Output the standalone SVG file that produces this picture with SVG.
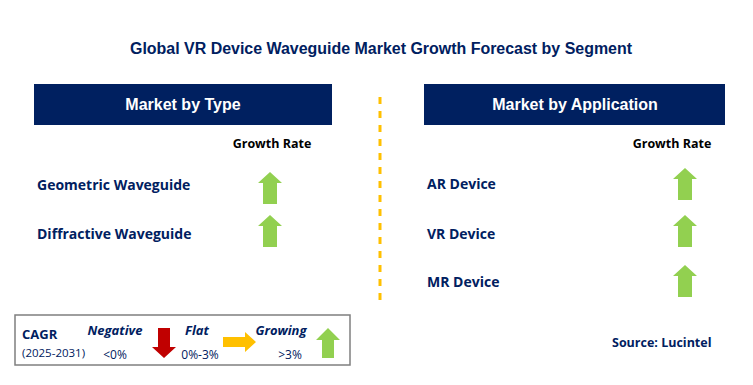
<svg xmlns="http://www.w3.org/2000/svg" width="753" height="385" viewBox="0 0 753 385">
<defs>
<style>
.t{font-family:"Liberation Sans",Arial,sans-serif;font-weight:bold;fill:#002060}
.h{font-family:"Liberation Sans",Arial,sans-serif;font-weight:bold;fill:#fff;font-size:16px}
.c{font-family:"Open Sans","Liberation Sans",sans-serif;fill:#002060}
.k{fill:#000}
.g{fill:#92D050}
.hb{fill:#002060}
</style>
<path id="up" d="M0,0 L12,11 L7,11 L7,32 L-7,32 L-7,11 L-12,11 Z"/>
</defs>
<rect width="753" height="385" fill="#fff"/>
<text id="title" class="t" x="130" y="54" font-size="16" textLength="502" lengthAdjust="spacingAndGlyphs">Global VR Device Waveguide Market Growth Forecast by Segment</text>
<g id="type-header"><rect class="hb" x="34" y="84" width="298" height="41"/><text class="h" x="183" y="110" text-anchor="middle">Market by Type</text></g>
<g id="app-header"><rect class="hb" x="424" y="84" width="301" height="41"/><text class="h" x="575" y="110" text-anchor="middle">Market by Application</text></g>
<g id="connectors"><line x1="380" y1="97" x2="380" y2="302" stroke="#FFC000" stroke-width="3" stroke-dasharray="7,7"/></g>
<g id="gr-left"><text class="c k" x="272" y="148" font-size="12.5" font-weight="bold" text-anchor="middle">Growth Rate</text></g>
<g id="gr-right"><text class="c k" x="672" y="148" font-size="12.5" font-weight="bold" text-anchor="middle">Growth Rate</text></g>
<g id="geometric"><text class="c" x="37" y="190" font-size="14" font-weight="bold">Geometric Waveguide</text><use href="#up" class="g" x="270" y="172"/></g>
<g id="diffractive"><text class="c" x="37" y="239" font-size="14" font-weight="bold">Diffractive Waveguide</text><use href="#up" class="g" x="270" y="215"/></g>
<g id="ar"><text class="c" x="427" y="189" font-size="14" font-weight="bold">AR Device</text><use href="#up" class="g" x="685" y="168"/></g>
<g id="vr"><text class="c" x="427" y="239" font-size="14" font-weight="bold">VR Device</text><use href="#up" class="g" x="685" y="215"/></g>
<g id="mr"><text class="c" x="427" y="287" font-size="14" font-weight="bold">MR Device</text><use href="#up" class="g" x="685" y="265"/></g>
<g id="legend">
<rect x="15" y="315" width="335" height="50" fill="#fff" stroke="#7F7F7F" stroke-width="1.5"/>
<text class="c" x="22" y="339" font-size="13" font-weight="bold">CAGR</text>
<text class="c" x="22" y="357" font-size="11.5">(2025-2031)</text>
<text class="c" x="115" y="335" font-size="13" font-weight="bold" font-style="italic" text-anchor="middle">Negative</text>
<text class="c" x="115" y="359" font-size="12" text-anchor="middle">&lt;0%</text>
<path d="M158,328 L170,328 L170,347 L176,347 L164,358 L152,347 L158,347 Z" fill="#C00000"/>
<text class="c" x="197" y="335" font-size="13" font-weight="bold" font-style="italic" text-anchor="middle">Flat</text>
<text class="c" x="200" y="359" font-size="12" text-anchor="middle">0%-3%</text>
<path d="M223,337 L245,337 L245,332 L256,342 L245,352 L245,347 L223,347 Z" fill="#FFC000"/>
<text class="c" x="281" y="335" font-size="13" font-weight="bold" font-style="italic" text-anchor="middle">Growing</text>
<text class="c" x="290" y="359" font-size="12" text-anchor="middle">&gt;3%</text>
<path d="M328,328 L340,340 L334,340 L334,358 L322,358 L322,340 L316,340 Z" fill="#92D050"/>
</g>
<text id="source" class="c" x="612" y="347" font-size="12.5" font-weight="bold">Source: Lucintel</text>
</svg>
